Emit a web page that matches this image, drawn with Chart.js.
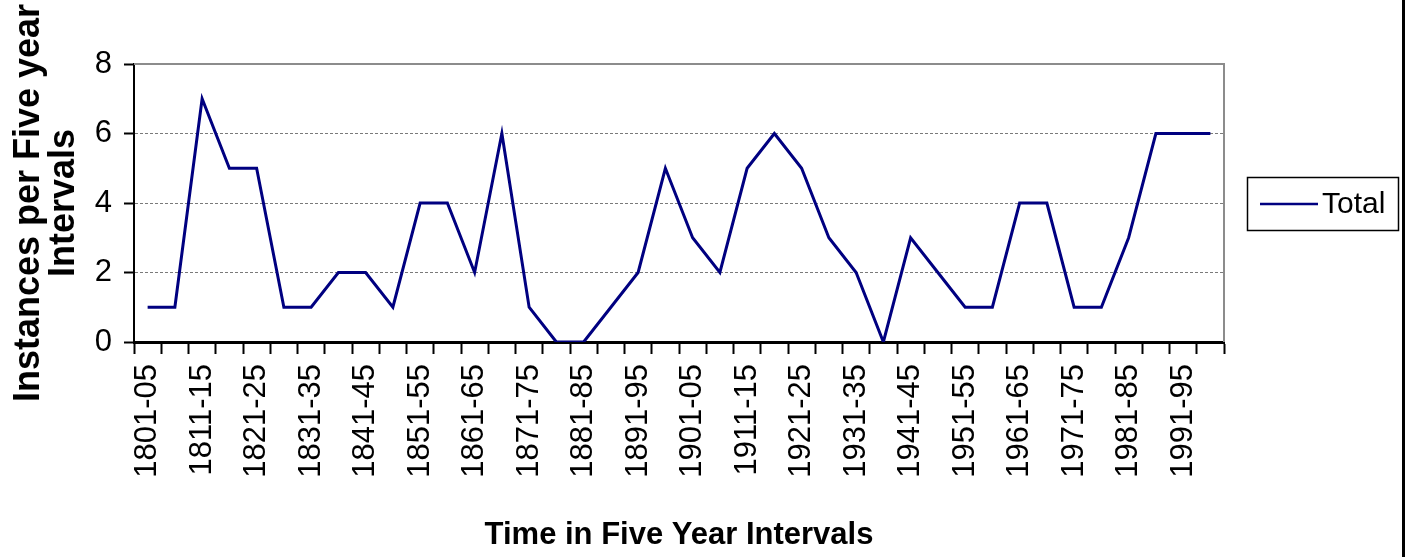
<!DOCTYPE html>
<html>
<head>
<meta charset="utf-8">
<script src="https://cdn.jsdelivr.net/npm/chart.js@4/dist/chart.umd.min.js"></script>
<style>
  html, body { margin: 0; padding: 0; background: #fff; }
  #wrap { width: 1408px; height: 557px; position: relative; }
</style>
</head>
<body>
<div id="wrap"><canvas id="total-chart"></canvas></div>
<script>
// five year periods, 1801-05 .. 1996-00 (only every other one gets a label)
const periods = [
    "1801-05", "1806-10", "1811-15", "1816-20", "1821-25", "1826-30", "1831-35", "1836-40",
    "1841-45", "1846-50", "1851-55", "1856-60", "1861-65", "1866-70", "1871-75", "1876-80",
    "1881-85", "1886-90", "1891-95", "1896-00", "1901-05", "1906-10", "1911-15", "1916-20",
    "1921-25", "1926-30", "1931-35", "1936-40", "1941-45", "1946-50", "1951-55", "1956-60",
    "1961-65", "1966-70", "1971-75", "1976-80", "1981-85", "1986-90", "1991-95", "1996-00"
];
const totals = [
    1, 1, 7, 5, 5, 1, 1, 2, 2, 1,
    4, 4, 2, 6, 1, 0, 0, 1, 2, 5,
    3, 2, 5, 6, 5, 3, 2, 0, 3, 2,
    1, 1, 4, 4, 1, 1, 3, 6, 6, 6
];
const yTicks = [0, 2, 4, 6, 8];

const lineColor = '#000080';

// gray frame on top/right of plot, black outer line, boxed legend
const framePlugin = {
    id: 'frame',
    beforeDatasetsDraw(chart) {
        const { ctx, chartArea } = chart;
        ctx.save();
        ctx.strokeStyle = '#8c8c8c';
        ctx.lineWidth = 2;
        ctx.beginPath();
        ctx.moveTo(chartArea.left, chartArea.top);
        ctx.lineTo(chartArea.right, chartArea.top);
        ctx.lineTo(chartArea.right, chartArea.bottom);
        ctx.stroke();
        ctx.restore();
    },
    afterDraw(chart) {
        const { ctx } = chart;
        ctx.save();
        // outer right edge
        ctx.strokeStyle = '#000';
        ctx.lineWidth = 3;
        ctx.beginPath();
        ctx.moveTo(1403.5, 0);
        ctx.lineTo(1403.5, 557);
        ctx.stroke();
        // legend box
        ctx.lineWidth = 1.5;
        ctx.strokeRect(1247.5, 177.5, 151, 53);
        ctx.strokeStyle = lineColor;
        ctx.lineWidth = 2.5;
        ctx.beginPath();
        ctx.moveTo(1260, 204);
        ctx.lineTo(1318, 204);
        ctx.stroke();
        ctx.fillStyle = '#000';
        ctx.font = '30px "Liberation Sans", Arial, sans-serif';
        ctx.textBaseline = 'middle';
        ctx.fillText(chart.data.datasets[0].label, 1322, 205);
        ctx.restore();
    }
};

const canvas = document.querySelector('#total-chart');
const totalChart = new Chart(canvas.getContext('2d'), {
    type: 'line',
    data: {
        labels: periods,
        datasets: [{
            label: 'Total',
            data: totals,
            borderColor: lineColor,
            backgroundColor: lineColor,
            borderWidth: 3,
            pointRadius: 0,
            tension: 0
        }]
    },
    options: {
        responsive: true,
        maintainAspectRatio: false,
        animation: false,
        layout: { padding: { top: 64, right: 184, left: 0, bottom: 0 } },
        plugins: {
            legend: { display: false },
            tooltip: { enabled: false }
        },
        scales: {
            x: {
                offset: true,
                afterFit(scale) { scale.height = 215; },
                grid: {
                    offset: true,
                    drawOnChartArea: false,
                    tickColor: '#000',
                    tickWidth: 2,
                    tickLength: 12
                },
                border: { color: '#000', width: 3 },
                ticks: {
                    autoSkip: false,
                    minRotation: 90,
                    maxRotation: 90,
                    padding: 10,
                    color: '#000',
                    font: { family: '"Liberation Sans", Arial, sans-serif', size: 31 },
                    callback: (value, i) => i % 2 === 0 ? periods[i] : ''
                },
                title: {
                    display: true,
                    text: 'Time in Five Year Intervals',
                    color: '#000',
                    font: { family: '"Liberation Sans", Arial, sans-serif', size: 31, weight: 'bold' },
                    padding: { top: 0, bottom: 3 }
                }
            },
            y: {
                min: 0,
                max: 8,
                afterFit(scale) { scale.width = 134; },
                afterBuildTicks(scale) { scale.ticks = yTicks.map(v => ({ value: v })); },
                grid: {
                    color: c => (c.tick && c.tick.value > 0 && c.tick.value < 8) ? '#7a7a7a' : 'rgba(0,0,0,0)',
                    lineWidth: 1,
                    tickColor: '#000',
                    tickWidth: 2,
                    tickLength: 10
                },
                border: { color: '#000', width: 2, dash: [3, 2] },
                ticks: {
                    padding: 12,
                    color: '#000',
                    font: { family: '"Liberation Sans", Arial, sans-serif', size: 31 }
                },
                title: {
                    display: true,
                    text: ['Instances per Five year', 'Intervals'],
                    color: '#000',
                    font: { family: '"Liberation Sans", Arial, sans-serif', size: 36, weight: 'bold', lineHeight: '35px' },
                    padding: { top: 12, bottom: 0 }
                }
            }
        }
    },
    plugins: [framePlugin]
});
</script>
</body>
</html>
